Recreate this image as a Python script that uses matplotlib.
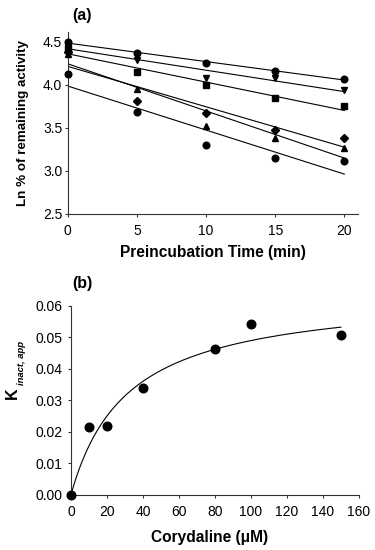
import numpy as np
import matplotlib
matplotlib.use("Agg")
import matplotlib.pyplot as plt
from matplotlib.ticker import FormatStrFormatter

plt.rcParams['font.family'] = ['Liberation Sans', 'DejaVu Sans']

# ---- Panel (a) data ----
time_min = [0, 5, 10, 15, 20]
ln_circle_top = [4.49, 4.37, 4.25, 4.16, 4.06]
ln_tri_down = [4.45, 4.29, 4.08, 4.07, 3.94]
ln_square = [4.42, 4.14, 3.99, 3.84, 3.75]
ln_diamond = [4.38, 3.81, 3.67, 3.47, 3.38]
ln_tri_up = [4.35, 3.95, 3.52, 3.38, 3.27]
ln_circle_bot = [4.12, 3.68, 3.30, 3.15, 3.11]
series_a = [ln_circle_top, ln_tri_down, ln_square, ln_diamond, ln_tri_up, ln_circle_bot]
markers_a = ['o', 'v', 's', 'D', '^', 'o']

a_xticks = [0, 5, 10, 15, 20]
a_yticks = [2.5, 3.0, 3.5, 4.0, 4.5]

# ---- Panel (b) data ----
corydaline_uM = [0, 10, 20, 40, 80, 100, 150]
k_inact_app = [0.0, 0.0217, 0.0220, 0.0338, 0.0463, 0.0543, 0.0508]
k_inact_max = 0.0644
K_I = 31.5
b_xticks = [0, 20, 40, 60, 80, 100, 120, 140, 160]
b_yticks = [0.00, 0.01, 0.02, 0.03, 0.04, 0.05, 0.06]

fig = plt.figure(figsize=(3.75, 5.5), dpi=100)
spine_c = '#333333'
tick_fs = 10

def style(ax, ypad, xpad):
    for s in ['top', 'right']:
        ax.spines[s].set_visible(False)
    for s in ['left', 'bottom']:
        ax.spines[s].set_color(spine_c)
        ax.spines[s].set_linewidth(0.8)
    ax.tick_params(direction='out', length=2.5, width=0.8, color=spine_c,
                   labelsize=tick_fs)
    ax.tick_params(axis='y', pad=ypad)
    ax.tick_params(axis='x', pad=xpad)

# Panel (a)
ax1 = fig.add_axes([0.181, 0.611, 0.774, 0.331])
t = np.array(time_min, dtype=float)
for ys, m in zip(series_a, markers_a):
    ys = np.array(ys)
    slope, icpt = np.polyfit(t, ys, 1)
    xx = np.array([0, 20])
    ax1.plot(xx, icpt + slope * xx, color='black', lw=0.8, zorder=2)
    ax1.plot(t, ys, linestyle='none', marker=m, color='black',
             ms=(4.4 if m == 'D' else 4.8), clip_on=False, zorder=3)
ax1.set_xlim(0, 21)
ax1.set_ylim(2.5, 4.61)
ax1.set_xticks(a_xticks)
ax1.set_yticks(a_yticks)
ax1.yaxis.set_major_formatter(FormatStrFormatter('%.1f'))
style(ax1, ypad=1.5, xpad=5)
ax1.set_xlabel('Preincubation Time (min)', fontsize=11.2, fontweight='bold', va='top')
ax1.xaxis.set_label_coords(0.5, -0.168)
ax1.set_ylabel('Ln % of remaining activity', fontsize=9.6, fontweight='bold')
ax1.yaxis.set_label_coords(-0.134, 0.5)
fig.text(0.192, 0.972, '(a)', fontsize=11.5, fontweight='bold', va='center')

# Panel (b)
ax2 = fig.add_axes([0.189, 0.1, 0.768, 0.344])
xc = np.linspace(0, 150, 300)
ax2.plot(xc, k_inact_max * xc / (K_I + xc), color='black', lw=0.8, zorder=2)
ax2.plot(corydaline_uM, k_inact_app, linestyle='none', marker='o', color='black',
         ms=6.2, clip_on=False, zorder=3)
ax2.set_xlim(0, 160)
ax2.set_ylim(0, 0.06)
ax2.set_xticks(b_xticks)
ax2.set_yticks(b_yticks)
ax2.yaxis.set_major_formatter(FormatStrFormatter('%.2f'))
style(ax2, ypad=3.5, xpad=5)
ax2.set_xlabel('Corydaline (\u03bcM)', fontsize=11.2, fontweight='bold', va='top')
ax2.xaxis.set_label_coords(0.483, -0.183)
# y label: K with bold-italic subscript
fig.text(12.5 / 375, 1 - 399 / 550, 'K', fontsize=11.5, fontweight='bold',
         rotation=90, ha='center', va='bottom')
fig.text(21.5 / 375, 1 - 385 / 550, 'inact, app', fontsize=6.8, fontweight='bold',
         fontstyle='italic', rotation=90, ha='center', va='bottom')
fig.text(0.192, 0.485, '(b)', fontsize=11.5, fontweight='bold', va='center')

fig.savefig('out.png', dpi=100)
